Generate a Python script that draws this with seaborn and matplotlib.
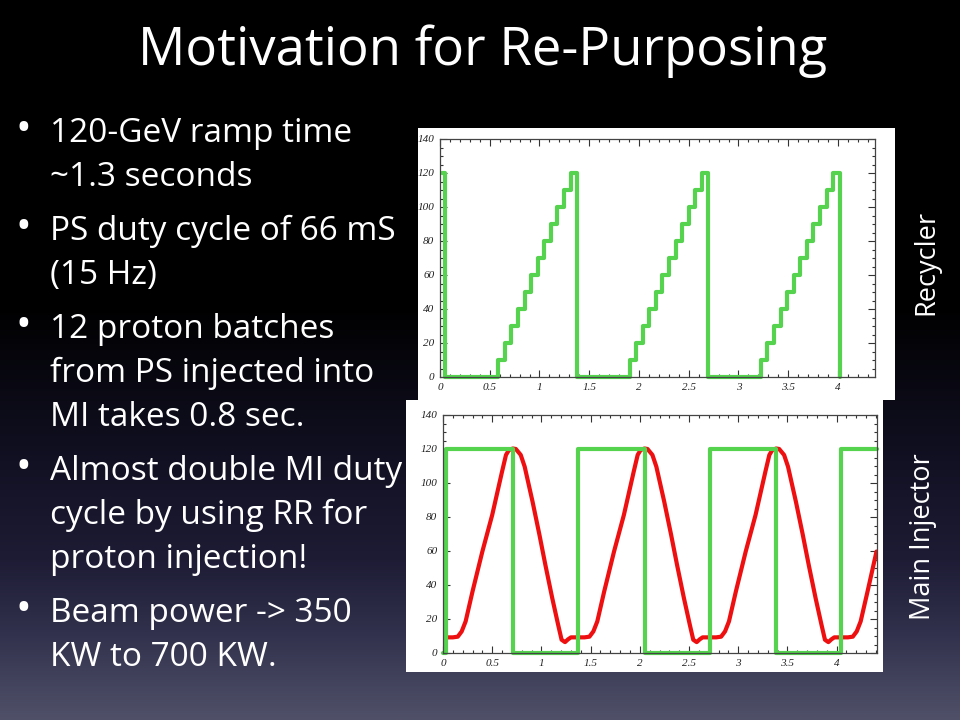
import matplotlib
matplotlib.use("Agg")
import numpy as np
import matplotlib.pyplot as plt
import seaborn as sns
from matplotlib.colors import LinearSegmentedColormap
from matplotlib.patches import Rectangle
from matplotlib.ticker import MultipleLocator, FuncFormatter

# Recycler: 12 batches stacked per cycle (time in s, energy level GeV), steps-post
rr_time = [0.025, 0.05,
           0.586, 0.652, 0.718, 0.784, 0.850, 0.916, 0.982, 1.048, 1.114, 1.180, 1.246, 1.312, 1.378,
           1.905, 1.971, 2.037, 2.103, 2.169, 2.235, 2.301, 2.367, 2.433, 2.499, 2.565, 2.631, 2.697,
           3.225, 3.291, 3.357, 3.423, 3.489, 3.555, 3.621, 3.687, 3.753, 3.819, 3.885, 3.951, 4.017]
rr_gev = [120, 0,
          10, 20, 30, 40, 50, 60, 70, 80, 90, 100, 110, 120, 0,
          10, 20, 30, 40, 50, 60, 70, 80, 90, 100, 110, 120, 0,
          10, 20, 30, 40, 50, 60, 70, 80, 90, 100, 110, 120, 0]

# Main Injector gate (green) and ramp (red)
mi_gate_time = [0.0, 0.035, 0.71, 1.375, 2.05, 2.71, 3.38, 4.04, 4.41]
mi_gate_gev = [0, 120, 0, 120, 0, 120, 0, 120, 120]

mi_ramp_time = [0.00, 0.10, 0.15, 0.19, 0.23, 0.30, 0.40, 0.50, 0.60, 0.64, 0.67, 0.71, 0.74,
                0.79, 0.83, 0.91, 0.98, 1.04, 1.11, 1.17, 1.205, 1.24, 1.27, 1.30,
                1.338, 1.438, 1.488, 1.528, 1.568, 1.638, 1.738, 1.838, 1.938, 1.978, 2.008, 2.048, 2.078,
                2.128, 2.168, 2.248, 2.318, 2.378, 2.448, 2.508, 2.543, 2.578, 2.608, 2.638,
                2.676, 2.776, 2.826, 2.866, 2.906, 2.976, 3.076, 3.176, 3.276, 3.316, 3.346, 3.386, 3.416,
                3.466, 3.506, 3.586, 3.656, 3.716, 3.786, 3.846, 3.881, 3.916, 3.946, 3.976,
                4.014, 4.114, 4.164, 4.204, 4.244, 4.314, 4.405]
mi_ramp_gev = [9.2, 9.2, 9.6, 12.7, 18.6, 36.2, 59.7, 81.2, 106.7, 116.5, 119.4, 120.3, 120.0,
               116.5, 109.6, 89.0, 69.5, 51.9, 32.3, 16.6, 7.8, 6.4, 8.0, 9.2,
               9.2, 9.2, 9.6, 12.7, 18.6, 36.2, 59.7, 81.2, 106.7, 116.5, 119.4, 120.3, 120.0,
               116.5, 109.6, 89.0, 69.5, 51.9, 32.3, 16.6, 7.8, 6.4, 8.0, 9.2,
               9.2, 9.2, 9.6, 12.7, 18.6, 36.2, 59.7, 81.2, 106.7, 116.5, 119.4, 120.3, 120.0,
               116.5, 109.6, 89.0, 69.5, 51.9, 32.3, 16.6, 7.8, 6.4, 8.0, 9.2,
               9.2, 9.2, 9.6, 12.7, 18.6, 36.2, 59.7]

title = "Motivation for Re-Purposing"
bullets = [
    ["120-GeV ramp time", "~1.3 seconds"],
    ["PS duty cycle of 66 mS", "(15 Hz)"],
    ["12 proton batches", "from PS injected into", "MI takes 0.8 sec."],
    ["Almost double MI duty", "cycle by using RR for", "proton injection!"],
    ["Beam power -> 350", "KW to 700 KW."],
]

GREEN = "#55d24e"
RED = "#ee1010"

sns.set_style("ticks")
plt.rcParams["font.family"] = ["Open Sans", "DejaVu Sans"]

W, H = 960, 720
fig = plt.figure(figsize=(9.6, 7.2), dpi=100)

# slide background gradient
bg = fig.add_axes([0, 0, 1, 1], zorder=-10)
cmap = LinearSegmentedColormap.from_list("slide", [
    (0.0, "#000000"), (0.42, "#000000"), (0.62, "#100f20"),
    (0.78, "#1e1c35"), (0.89, "#33334f"), (1.0, "#4f5068")])
bg.imshow(np.linspace(0, 1, 400).reshape(-1, 1), aspect="auto", cmap=cmap,
          extent=[0, 1, 0, 1], origin="upper")
bg.set_axis_off()


def px_rect(x0, y0, x1, y1):
    return [x0 / W, 1 - y1 / H, (x1 - x0) / W, (y1 - y0) / H]


# white panels behind the two plots
for r in (px_rect(406, 400, 883, 672), px_rect(418, 128, 895, 400)):
    fig.add_artist(Rectangle((r[0], r[1]), r[2], r[3], transform=fig.transFigure,
                             facecolor="white", edgecolor="none", zorder=0))

ax1 = fig.add_axes(px_rect(440, 139, 875, 377), zorder=2)
ax2 = fig.add_axes(px_rect(443, 415, 877, 653), zorder=2)

sns.lineplot(x=rr_time, y=rr_gev, ax=ax1, color=GREEN, linewidth=3.0,
             drawstyle="steps-post", estimator=None, sort=False, clip_on=False)
sns.lineplot(x=mi_ramp_time, y=mi_ramp_gev, ax=ax2, color=RED, linewidth=3.0,
             estimator=None, sort=False)
sns.lineplot(x=mi_gate_time, y=mi_gate_gev, ax=ax2, color=GREEN, linewidth=3.0,
             drawstyle="steps-post", estimator=None, sort=False, clip_on=False)

fmt = FuncFormatter(lambda v, p: "%g" % v)
for ax, xmax in ((ax1, 4.372), (ax2, 4.41)):
    ax.set_facecolor("white")
    ax.set_xlim(0, xmax)
    ax.set_ylim(0, 140)
    ax.xaxis.set_major_locator(MultipleLocator(0.5))
    ax.xaxis.set_minor_locator(MultipleLocator(0.1))
    ax.yaxis.set_major_locator(MultipleLocator(20))
    ax.yaxis.set_minor_locator(MultipleLocator(5))
    ax.xaxis.set_major_formatter(fmt)
    ax.yaxis.set_major_formatter(fmt)
    ax.tick_params(which="both", direction="in", top=True, right=True,
                   colors="#333333", width=0.8)
    ax.tick_params(which="major", length=5, pad=4)
    ax.tick_params(which="minor", length=2.5)
    for lab in ax.get_xticklabels() + ax.get_yticklabels():
        lab.set_family(["Liberation Serif", "DejaVu Serif"])
        lab.set_style("italic")
        lab.set_fontsize(8)
        lab.set_color("#222222")
    for s in ax.spines.values():
        s.set_color("#444444")
        s.set_linewidth(0.9)
    ax.set_xlabel("")
    ax.set_ylabel("")

# slide text
fig.text(483 / W, 1 - 65 / H, title, color="white", fontsize=38,
         ha="center", va="baseline")

baselines = [142, 186, 240, 284, 338, 382, 426, 480, 524, 568, 622, 666]
k = 0
for group in bullets:
    fig.text(23 / W, 1 - (baselines[k] - 1) / H, "\u2022", color="white", fontsize=30,
             ha="center", va="baseline")
    for line in group:
        fig.text(50 / W, 1 - baselines[k] / H, line, color="white", fontsize=24,
                 ha="left", va="baseline")
        k += 1

fig.text(926 / W, 1 - 262 / H, "Recycler", color="white", fontsize=19.5,
         rotation=90, ha="center", va="center")
fig.text(923 / W, 1 - 537 / H, "Main Injector", color="white", fontsize=19.5,
         rotation=90, ha="center", va="center")

fig.savefig("out.png", dpi=100)
